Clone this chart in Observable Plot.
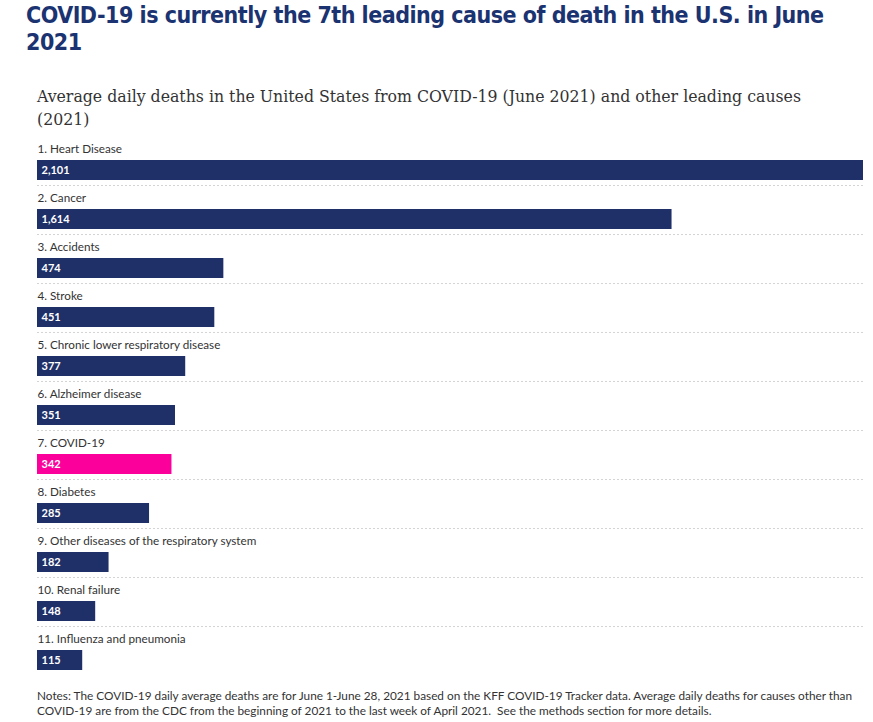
<!DOCTYPE html>
<html>
<head>
<meta charset="utf-8">
<script src="https://cdn.jsdelivr.net/npm/d3@7"></script>
<script src="https://cdn.jsdelivr.net/npm/@observablehq/plot@0.6"></script>
<style>
  html, body { margin: 0; padding: 0; background: #fff; }
  body { width: 873px; height: 722px; position: relative; overflow: hidden; }
  #title { position: absolute; left: 26px; top: 2px; width: 860px; white-space: nowrap; font-family: "DejaVu Sans Condensed", sans-serif; font-weight: bold; font-size: 23px; letter-spacing: -0.5px; line-height: 27px; color: #1b3371; }
  #subtitle { position: absolute; left: 37px; top: 85px; width: 836px; white-space: nowrap; font-family: "DejaVu Serif Condensed", "DejaVu Serif", serif; font-size: 17.5px; line-height: 23px; color: #333; }
  #chart { position: absolute; left: 0; top: 140px; }
  #notes { position: absolute; left: 37px; top: 689px; width: 836px; white-space: nowrap; font-family: Lato, sans-serif; font-size: 11.8px; line-height: 14.5px; color: #333; }
</style>
</head>
<body>
<div id="title">COVID-19 is currently the 7th leading cause of death in the U.S. in June<br>2021</div>
<div id="subtitle">Average daily deaths in the United States from COVID-19 (June 2021) and other leading causes<br>(2021)</div>
<div id="chart"></div>
<div id="notes">Notes: The COVID-19 daily average deaths are for June 1-June 28, 2021 based on the KFF COVID-19 Tracker data. Average daily deaths for causes other than<br>COVID-19 are from the CDC from the beginning of 2021 to the last week of April 2021.&nbsp; See the methods section for more details.</div>
<script>
const causes = ["1. Heart Disease", "2. Cancer", "3. Accidents", "4. Stroke", "5. Chronic lower respiratory disease", "6. Alzheimer disease", "7. COVID-19", "8. Diabetes", "9. Other diseases of the respiratory system", "10. Renal failure", "11. Influenza and pneumonia"];
const deaths = [2101, 1614, 474, 451, 377, 351, 342, 285, 182, 148, 115];
const highlight = "7. COVID-19";

const data = causes.map((c, i) => ({cause: c, value: deaths[i], covid: c === highlight}));
const rowH = 49;
const chart = Plot.plot({
  width: 873,
  height: causes.length * rowH,
  marginLeft: 37,
  marginRight: 10,
  marginTop: 0,
  marginBottom: 0,
  x: {domain: [0, d3.max(deaths)], axis: null},
  y: {domain: causes, axis: null, padding: 0},
  style: {fontFamily: "Lato, sans-serif"},
  marks: [
    Plot.ruleY(data.slice(0, -1), {y: "cause", dy: 20.5, stroke: "#d4d4d4", strokeDasharray: "2,2", strokeWidth: 1}),
    Plot.barX(data, {x: "value", y: "cause", insetTop: 20, insetBottom: 9, fill: d => d.covid ? "#fc009b" : "#1f2f68"}),
    Plot.text(data, {x: 0, y: "cause", text: "cause", dy: -15.5, textAnchor: "start", fontSize: 11.7, fill: "#333"}),
    Plot.text(data, {x: 0, y: "cause", text: d => d3.format(",")(d.value), dx: 4, dy: 5.5, textAnchor: "start", fontSize: 11, fontWeight: "bold", fill: "#fff"})
  ]
});
document.getElementById("chart").append(chart);
</script>
</body>
</html>
